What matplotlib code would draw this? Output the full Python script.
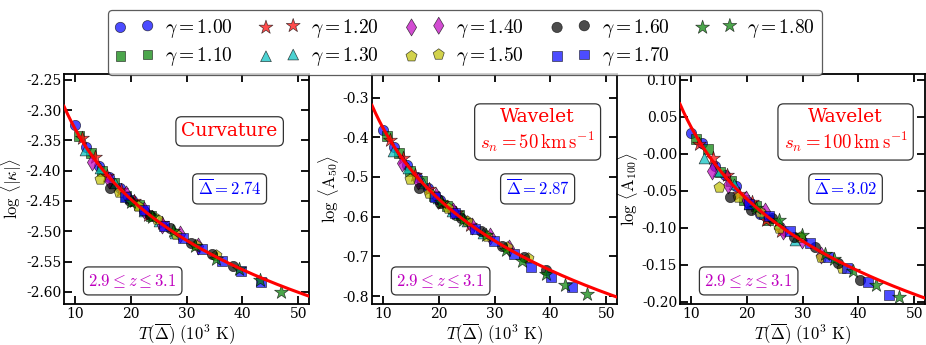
import numpy as np
import matplotlib
matplotlib.use("Agg")
import matplotlib.pyplot as plt
from matplotlib.ticker import FormatStrFormatter, MultipleLocator

plt.rcParams.update({
    "font.family": "serif",
    "font.serif": ["DejaVu Serif"],
    "mathtext.fontset": "cm",
    "font.size": 10,
    "axes.linewidth": 1.3,
})

# thermal parameter of each simulation, one series per gamma
gammas = [1.00, 1.10, 1.20, 1.30, 1.40, 1.50, 1.60, 1.70, 1.80]
markers = ["o", "s", "*", "^", "d", "p", "o", "s", "*"]
colors = ["b", "g", "r", "c", "m", "y", "k", "b", "g"]
sizes = [55, 48, 110, 60, 75, 70, 55, 48, 110]

# T(Delta_bar) in 1e3 K
T_curv = [
    [10.0, 12.0, 14.2, 16.1, 18.1, 20.2, 22.3],
    [10.7, 12.8, 14.9, 17.0, 19.2, 21.4, 23.6],
    [11.3, 13.5, 15.8, 18.2, 20.6, 23.0, 25.6],
    [11.8, 14.5, 17.1, 19.8, 22.4, 25.1, 27.9],
    [13.0, 16.0, 19.1, 22.3, 25.5, 28.8, 32.0],
    [14.4, 17.8, 21.2, 24.6, 28.1, 31.6, 35.2],
    [16.3, 19.8, 23.4, 27.0, 30.7, 34.5, 38.3],
    [19.0, 22.4, 25.9, 29.3, 32.8, 36.3, 39.7, 43.3],
    [20.0, 23.8, 27.6, 31.5, 35.3, 39.3, 43.1, 47.0],
]
logk = [
    [-2.324, -2.361, -2.392, -2.411, -2.429, -2.449, -2.467],
    [-2.342, -2.370, -2.401, -2.420, -2.442, -2.456, -2.475],
    [-2.346, -2.377, -2.408, -2.432, -2.450, -2.473, -2.487],
    [-2.365, -2.395, -2.421, -2.445, -2.467, -2.483, -2.503],
    [-2.386, -2.416, -2.439, -2.465, -2.490, -2.505, -2.524],
    [-2.413, -2.435, -2.459, -2.480, -2.504, -2.522, -2.539],
    [-2.428, -2.450, -2.473, -2.495, -2.519, -2.537, -2.558],
    [-2.443, -2.465, -2.492, -2.511, -2.530, -2.549, -2.565, -2.584],
    [-2.452, -2.476, -2.499, -2.525, -2.545, -2.563, -2.581, -2.601],
]

T_w50 = [
    [10.0, 12.0, 14.2, 16.1, 18.1, 20.2, 22.3],
    [10.7, 12.8, 14.9, 17.0, 19.2, 21.4, 23.6],
    [11.3, 13.5, 15.8, 18.2, 20.6, 23.0, 25.6],
    [11.8, 14.5, 17.1, 19.8, 22.4, 25.1, 27.9],
    [13.3, 16.3, 19.4, 22.6, 25.9, 29.2, 32.5],
    [14.9, 18.2, 21.7, 25.1, 28.7, 32.3, 35.9],
    [16.5, 20.2, 23.9, 27.6, 31.4, 35.3, 39.2],
    [19.3, 22.8, 26.4, 29.9, 33.4, 36.6, 40.1, 43.9],
    [20.4, 24.4, 28.4, 32.1, 34.9, 39.2, 42.7, 46.6],
]
logA50 = [
    [-0.382, -0.424, -0.470, -0.500, -0.528, -0.557, -0.584],
    [-0.397, -0.439, -0.484, -0.511, -0.547, -0.573, -0.597],
    [-0.408, -0.451, -0.495, -0.530, -0.566, -0.590, -0.620],
    [-0.434, -0.477, -0.516, -0.552, -0.585, -0.612, -0.642],
    [-0.466, -0.510, -0.548, -0.586, -0.624, -0.650, -0.680],
    [-0.504, -0.541, -0.579, -0.612, -0.648, -0.677, -0.705],
    [-0.528, -0.566, -0.603, -0.636, -0.673, -0.702, -0.734],
    [-0.550, -0.590, -0.631, -0.661, -0.694, -0.726, -0.752, -0.777],
    [-0.563, -0.609, -0.647, -0.684, -0.711, -0.744, -0.772, -0.796],
]

T_w100 = [
    [10.0, 12.0, 14.2, 16.1, 18.1, 20.2, 22.3],
    [10.8, 13.0, 15.1, 17.2, 19.4, 21.6, 23.8],
    [11.4, 13.9, 16.5, 18.6, 21.0, 23.5, 26.1],
    [12.3, 14.9, 17.6, 20.4, 23.1, 25.8, 28.7],
    [13.8, 16.6, 19.9, 23.2, 26.5, 29.9, 33.3],
    [15.0, 18.4, 22.3, 25.8, 29.5, 33.2, 37.0],
    [16.9, 20.8, 24.5, 28.4, 32.3, 36.3, 40.3],
    [20.3, 24.0, 27.7, 31.3, 34.6, 37.9, 41.8, 45.5],
    [21.6, 25.7, 29.8, 34.0, 35.6, 39.0, 43.1, 47.3],
]
logA100 = [
    [0.028, 0.014, -0.016, -0.029, -0.043, -0.065, -0.081],
    [0.020, 0.007, -0.025, -0.037, -0.062, -0.071, -0.089],
    [0.013, -0.006, -0.029, -0.054, -0.065, -0.090, -0.104],
    [-0.006, -0.024, -0.041, -0.068, -0.080, -0.094, -0.116],
    [-0.024, -0.042, -0.061, -0.077, -0.104, -0.116, -0.137],
    [-0.045, -0.058, -0.079, -0.101, -0.113, -0.139, -0.155],
    [-0.058, -0.076, -0.087, -0.112, -0.126, -0.148, -0.171],
    [-0.068, -0.084, -0.104, -0.121, -0.140, -0.155, -0.174, -0.191],
    [-0.074, -0.090, -0.110, -0.135, -0.142, -0.158, -0.178, -0.194],
]

# best-fit power law: log y = a + b log T
fit_curv = (-1.945, -0.386)
fit_w50 = (0.218, -0.595)
fit_w100 = (0.359, -0.323)

delta_bar = ["2.74", "2.87", "3.02"]

panels = [
    dict(T=T_curv, y=logk, fit=fit_curv, ylim=(-2.62, -2.24), yticks=np.arange(-2.60, -2.24, 0.05),
         fmt="%.2f", ylabel=r"$\log\,\langle|\kappa|\rangle$", title="Curvature"),
    dict(T=T_w50, y=logA50, fit=fit_w50, ylim=(-0.82, -0.24), yticks=np.arange(-0.8, -0.25, 0.1),
         fmt="%.1f", ylabel=r"$\log\,\langle\mathrm{A}_{50}\rangle$",
         title="Wavelet\n" + r"$s_n=50\,\mathrm{km\,s^{-1}}$"),
    dict(T=T_w100, y=logA100, fit=fit_w100, ylim=(-0.203, 0.108), yticks=np.arange(-0.20, 0.11, 0.05),
         fmt="%.2f", ylabel=r"$\log\,\langle\mathrm{A}_{100}\rangle$",
         title="Wavelet\n" + r"$s_n=100\,\mathrm{km\,s^{-1}}$"),
]

fig = plt.figure(figsize=(9.26, 3.45), dpi=100)
lefts = [0.0691, 0.4017, 0.7343]
box = dict(boxstyle="round,pad=0.3", facecolor="white", edgecolor="#333333", linewidth=0.9)

handles = []
for k, p in enumerate(panels):
    ax = fig.add_axes([lefts[k], 0.119, 0.265, 0.667])
    for i, g in enumerate(gammas):
        h = ax.scatter(p["T"][i], p["y"][i], marker=markers[i], c=colors[i], s=sizes[i],
                       alpha=0.7, edgecolors="k", linewidths=0.5, zorder=2,
                       label=r"$\gamma=%.2f$" % g)
        if k == 0:
            handles.append(h)
    xx = np.linspace(8, 52, 200)
    a, b = p["fit"]
    ax.plot(xx, a + b * np.log10(xx), color="red", lw=2.2, zorder=3)

    ax.set_xlim(8, 52)
    ax.set_ylim(*p["ylim"])
    ax.xaxis.set_major_locator(MultipleLocator(10))
    ax.set_yticks(p["yticks"])
    ax.yaxis.set_major_formatter(FormatStrFormatter(p["fmt"]))
    ax.tick_params(direction="in", top=True, right=True, length=6, width=1.3,
                   labelsize=10, pad=2)
    ax.set_xlabel(r"$T(\overline{\Delta})\ (10^3\ \mathrm{K})$", fontsize=12, labelpad=0)
    ax.set_ylabel(p["ylabel"], fontsize=12, labelpad=1)

    ax.text(0.675, 0.75, p["title"], transform=ax.transAxes, color="red", fontsize=13.5,
            ha="center", va="center", multialignment="center", bbox=box)
    ax.text(0.675, 0.50, r"$\overline{\Delta}=%s$" % delta_bar[k], transform=ax.transAxes,
            color="blue", fontsize=12, ha="center", va="center", bbox=box)
    ax.text(0.28, 0.10, r"$2.9\leq z\leq 3.1$", transform=ax.transAxes,
            color="m", fontsize=12, ha="center", va="center", bbox=box)

leg = fig.legend(handles=handles, loc="upper center", bbox_to_anchor=(0.502, 1.0), ncol=5,
                 scatterpoints=2, fontsize=14, frameon=True, fancybox=True,
                 handletextpad=0.6, columnspacing=1.4, borderpad=0.35, labelspacing=0.3)
leg.get_frame().set_edgecolor("#333333")
leg.get_frame().set_linewidth(0.9)

fig.savefig("out.png", dpi=100)
